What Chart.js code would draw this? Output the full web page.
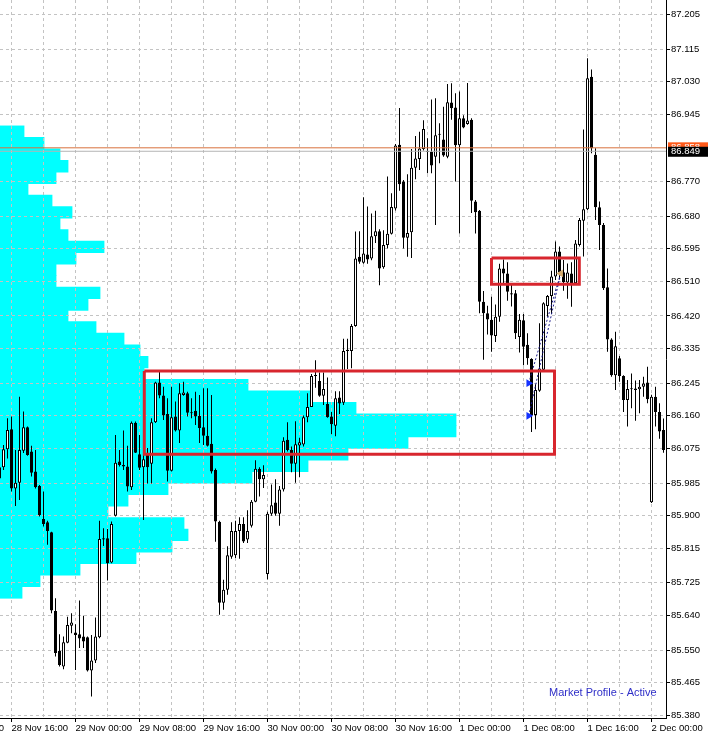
<!DOCTYPE html>
<html>
<head>
<meta charset="utf-8">
<script src="https://cdn.jsdelivr.net/npm/chart.js@4.4.1/dist/chart.umd.min.js"></script>
<style>
  html, body { margin: 0; padding: 0; background: #fff; }
  #wrap { width: 708px; height: 737px; }
</style>
</head>
<body>
<div id="wrap"><canvas id="chart" width="708" height="737"></canvas></div>
<script>
// M30 bars, index 0 = 28 Nov 16:00
const FIRST_BAR = -3;
const opens = [
  85.997, 86.026, 86.073, 86.125, 85.971, 85.986, 86.069, 86.130, 86.067, 86.015,
  85.977, 85.891, 85.883, 85.857, 85.652, 85.548, 85.507, 85.569, 85.613, 85.596,
  85.591, 85.585, 85.583, 85.497, 85.523, 85.583, 85.841, 85.841, 85.778, 85.900,
  86.041, 86.032, 86.028, 85.974, 86.142, 86.060, 86.026, 86.062, 86.035, 86.143,
  86.247, 86.213, 86.165, 86.017, 86.158, 86.122, 86.214, 86.219, 86.169, 86.173,
  86.160, 86.130, 86.108, 86.087, 86.019, 85.884, 85.673, 85.707, 85.793, 85.797,
  85.860, 85.878, 85.838, 85.874, 85.936, 86.022, 85.995, 85.748, 85.905, 85.934,
  85.905, 85.968, 86.098, 86.071, 86.035, 86.083, 86.085, 86.156, 86.183, 86.264,
  86.251, 86.212, 86.191, 86.158, 86.134, 86.208, 86.194, 86.329, 86.329, 86.394,
  86.574, 86.559, 86.580, 86.570, 86.628, 86.641, 86.547, 86.605, 86.634, 86.700,
  86.866, 86.770, 86.624, 86.638, 86.806, 86.829, 86.855, 86.850, 86.848, 86.835,
  86.894, 86.880, 86.835, 86.976, 86.963, 86.865, 86.935, 86.920, 86.931, 86.718,
  86.694, 86.457, 86.427, 86.410, 86.368, 86.418, 86.544, 86.531, 86.479, 86.479,
  86.365, 86.409, 86.345, 86.308, 86.162, 86.225, 86.280, 86.446, 86.472, 86.523,
  86.588, 86.534, 86.507, 86.531, 86.505, 86.605, 86.668, 86.698, 87.043, 86.840,
  86.703, 86.657, 86.495, 86.359, 86.266, 86.310, 86.264, 86.201, 86.230, 86.227,
  86.229, 86.236, 86.247, 85.935, 86.210, 86.170, 86.123
];
const highs = [
  86.076, 86.084, 86.154, 86.158, 86.071, 86.210, 86.171, 86.132, 86.082, 86.071,
  85.980, 85.963, 85.887, 85.858, 85.685, 85.591, 85.585, 85.637, 85.646, 85.617,
  85.679, 85.639, 85.585, 85.589, 85.635, 85.887, 85.867, 85.865, 85.885, 86.110,
  86.071, 86.122, 86.082, 86.145, 86.145, 86.110, 86.067, 86.076, 86.154, 86.249,
  86.275, 86.236, 86.206, 86.236, 86.197, 86.245, 86.249, 86.223, 86.206, 86.223,
  86.214, 86.232, 86.232, 86.214, 86.023, 85.887, 85.733, 85.820, 85.883, 85.887,
  85.896, 85.896, 85.914, 85.941, 86.044, 86.026, 86.031, 85.910, 85.981, 85.995,
  85.977, 86.104, 86.143, 86.080, 86.146, 86.103, 86.161, 86.219, 86.269, 86.305,
  86.273, 86.273, 86.260, 86.170, 86.224, 86.224, 86.361, 86.361, 86.399, 86.640,
  86.641, 86.729, 86.705, 86.687, 86.694, 86.646, 86.643, 86.783, 86.740, 86.868,
  86.962, 86.774, 86.789, 86.855, 86.889, 86.900, 86.930, 86.883, 86.984, 86.987,
  86.922, 86.965, 87.024, 87.026, 87.000, 87.005, 86.943, 87.027, 86.935, 86.722,
  86.696, 86.485, 86.447, 86.470, 86.450, 86.556, 86.567, 86.560, 86.505, 86.488,
  86.425, 86.425, 86.375, 86.310, 86.242, 86.401, 86.456, 86.475, 86.538, 86.614,
  86.601, 86.566, 86.557, 86.560, 86.618, 86.675, 86.906, 87.091, 87.062, 86.857,
  86.718, 86.662, 86.544, 86.362, 86.379, 86.316, 86.266, 86.253, 86.270, 86.252,
  86.253, 86.262, 86.288, 86.215, 86.236, 86.193, 86.153
];
const lows = [
  85.993, 86.019, 86.049, 85.963, 85.925, 85.941, 86.063, 86.056, 86.002, 85.971,
  85.898, 85.872, 85.824, 85.646, 85.533, 85.507, 85.500, 85.568, 85.594, 85.498,
  85.555, 85.555, 85.494, 85.429, 85.516, 85.581, 85.821, 85.731, 85.776, 85.898,
  86.028, 86.019, 85.963, 85.967, 86.063, 86.019, 85.889, 85.984, 85.984, 86.141,
  86.206, 86.149, 85.989, 86.015, 86.119, 86.089, 86.212, 86.158, 86.154, 86.136,
  86.089, 86.084, 86.080, 86.010, 85.832, 85.642, 85.655, 85.694, 85.788, 85.790,
  85.788, 85.829, 85.829, 85.869, 85.935, 85.950, 85.972, 85.734, 85.900, 85.900,
  85.874, 85.963, 86.067, 86.013, 85.986, 86.000, 86.080, 86.143, 86.183, 86.233,
  86.210, 86.188, 86.155, 86.112, 86.107, 86.165, 86.188, 86.282, 86.284, 86.392,
  86.556, 86.556, 86.556, 86.565, 86.610, 86.500, 86.543, 86.596, 86.632, 86.695,
  86.746, 86.596, 86.574, 86.571, 86.776, 86.800, 86.851, 86.792, 86.792, 86.657,
  86.818, 86.835, 86.831, 86.931, 86.770, 86.635, 86.909, 86.918, 86.688, 86.635,
  86.427, 86.306, 86.372, 86.327, 86.352, 86.405, 86.505, 86.460, 86.445, 86.360,
  86.325, 86.292, 86.293, 86.118, 86.125, 86.223, 86.275, 86.418, 86.425, 86.514,
  86.515, 86.486, 86.465, 86.444, 86.501, 86.601, 86.575, 86.696, 86.844, 86.670,
  86.592, 86.488, 86.327, 86.262, 86.227, 86.249, 86.170, 86.132, 86.180, 86.147,
  86.167, 86.210, 86.193, 85.933, 86.132, 86.100, 86.064
];
const closes = [
  86.026, 86.073, 86.123, 85.971, 85.986, 86.071, 86.130, 86.058, 86.012, 85.974,
  85.902, 85.878, 85.860, 85.653, 85.542, 85.511, 85.570, 85.615, 85.622, 85.589,
  85.580, 85.572, 85.497, 85.523, 85.585, 85.839, 85.838, 85.776, 85.878, 86.038,
  86.032, 86.028, 85.976, 86.142, 86.064, 86.025, 86.047, 86.026, 86.143, 86.247,
  86.213, 86.161, 86.017, 86.156, 86.122, 86.219, 86.221, 86.168, 86.167, 86.158,
  86.128, 86.108, 86.082, 86.015, 85.885, 85.673, 85.707, 85.797, 85.860, 85.860,
  85.878, 85.833, 85.860, 85.936, 86.022, 85.995, 86.006, 85.905, 85.927, 85.905,
  85.968, 86.095, 86.071, 86.035, 86.086, 86.091, 86.156, 86.183, 86.264, 86.266,
  86.212, 86.230, 86.156, 86.138, 86.206, 86.192, 86.329, 86.332, 86.394, 86.570,
  86.561, 86.583, 86.567, 86.628, 86.641, 86.544, 86.605, 86.634, 86.704, 86.864,
  86.763, 86.624, 86.636, 86.806, 86.830, 86.856, 86.907, 86.847, 86.812, 86.891,
  86.892, 86.838, 86.977, 86.961, 86.865, 86.935, 86.911, 86.929, 86.720, 86.690,
  86.457, 86.427, 86.411, 86.369, 86.418, 86.544, 86.531, 86.483, 86.476, 86.375,
  86.410, 86.340, 86.310, 86.161, 86.227, 86.283, 86.453, 86.472, 86.523, 86.588,
  86.533, 86.508, 86.533, 86.504, 86.609, 86.670, 86.698, 87.039, 86.857, 86.703,
  86.657, 86.492, 86.359, 86.266, 86.341, 86.264, 86.201, 86.230, 86.229, 86.231,
  86.236, 86.244, 86.203, 86.210, 86.170, 86.119, 86.071
];

// time axis: bar index of each grid line and its label
const xTickBars = [-16, 0, 8, 16, 24, 32, 40, 48, 56, 64, 72, 80, 88, 96, 104, 112, 120, 128, 136, 144, 152, 160];
const xTickLabels = ['28 Nov 08:00', '28 Nov 16:00', '', '29 Nov 00:00', '', '29 Nov 08:00', '', '29 Nov 16:00', '',
  '30 Nov 00:00', '', '30 Nov 08:00', '', '30 Nov 16:00', '', '1 Dec 00:00', '', '1 Dec 08:00', '',
  '1 Dec 16:00', '', '2 Dec 00:00'];
const priceTicks = [87.205, 87.115, 87.030, 86.945, 86.770, 86.680, 86.595, 86.510, 86.420, 86.335,
  86.245, 86.160, 86.075, 85.985, 85.900, 85.815, 85.725, 85.640, 85.550, 85.465, 85.380];

// market profile (row price, row length in bars)
const profilePrices = [85.70, 85.73, 85.76, 85.79, 85.82, 85.85, 85.88, 85.91, 85.94, 85.97,
  86.00, 86.03, 86.06, 86.09, 86.12, 86.15, 86.18, 86.21, 86.24, 86.27,
  86.30, 86.33, 86.36, 86.39, 86.42, 86.45, 86.48, 86.51, 86.54, 86.57,
  86.60, 86.63, 86.66, 86.69, 86.72, 86.75, 86.78, 86.81, 86.84, 86.87, 86.90];
const profileSize = [5.5, 10, 20, 34, 43, 47, 46, 27, 32, 42,
  63, 77, 87, 102, 114, 114, 89, 78, 62, 36,
  37, 35, 31, 24, 17, 22, 25, 14, 14, 19,
  26, 17, 15, 18, 13, 7, 14, 17, 15, 11, 6];

// objects on the chart
const askPrice = 86.858;
const bidPrice = 86.849;
const zoneA = { from: 33.2, to: 135.75, top: 86.277, bottom: 86.060 };
const zoneB = { from: 120.0, to: 141.95, top: 86.571, bottom: 86.503 };
const tradeOpenBar = 129.3;
const tradeOpenPrices = [86.245, 86.160];
const tradeCloseBar = 137.3;
const tradeClosePrice = 86.531;

const X_MIN = -2.875, X_MAX = 163.625;
const Y_MIN = 85.373, Y_MAX = 87.243;

const bars = opens.map((_, k) => FIRST_BAR + k);
const bodyColors = bars.map((_, k) => closes[k] >= opens[k] ? '#ffffff' : '#000000');

function box(z) {
  return [
    { x: z.from, y: z.top }, { x: z.to, y: z.top }, { x: z.to, y: z.bottom },
    { x: z.from, y: z.bottom }, { x: z.from, y: z.top }
  ];
}

const FONT = { family: 'Liberation Sans, Arial, sans-serif', size: 9.5 };

function noPadding(s) {
  s.paddingLeft = 0; s.paddingRight = 0; s.paddingTop = 0; s.paddingBottom = 0;
}

// grid must sit above the profile but under the candles
const gridOverProfile = {
  id: 'gridOverProfile',
  afterDatasetDraw(chart, args) {
    if (args.index !== 0) return;
    chart.scales.x.drawGrid(chart.chartArea);
    chart.scales.y.drawGrid(chart.chartArea);
  }
};

const priceTags = {
  id: 'priceTags',
  afterDraw(chart) {
    const { ctx, chartArea, scales } = chart;
    const x0 = chartArea.right + 2;
    ctx.save();
    ctx.font = '9.5px "Liberation Sans", Arial, sans-serif';
    ctx.textBaseline = 'middle';
    ctx.textAlign = 'left';
    const ya = scales.y.getPixelForValue(askPrice);
    ctx.fillStyle = '#ff5a1a';
    ctx.fillRect(x0, ya - 5.5, chart.width - x0, 10);
    ctx.fillStyle = '#ffffff';
    ctx.fillText(askPrice.toFixed(3), chartArea.right + 5, ya);
    const yb = scales.y.getPixelForValue(bidPrice);
    ctx.fillStyle = '#000000';
    ctx.fillRect(x0, yb - 4.5, chart.width - x0, 10);
    ctx.fillStyle = '#ffffff';
    ctx.fillText(bidPrice.toFixed(3), chartArea.right + 5, yb + 0.5);
    // indicator label
    ctx.font = '11px "Liberation Sans", Arial, sans-serif';
    ctx.fillStyle = '#2f2fc8';
    ctx.fillText('Market Profile - Active', chartArea.right - 117, chartArea.bottom - 25);
    ctx.restore();
  }
};

const hiddenAxis = { type: 'linear', display: false, offset: false, grid: { offset: false }, ticks: { display: false } };

new Chart(document.getElementById('chart'), {
  data: {
    datasets: [
      {
        type: 'bar',
        indexAxis: 'y',
        xAxisID: 'xp',
        yAxisID: 'yp',
        data: profilePrices.map((p, k) => ({ x: [X_MIN, X_MIN + profileSize[k]], y: p })),
        backgroundColor: '#00ffff',
        borderWidth: 0,
        grouped: false,
        barPercentage: 1,
        categoryPercentage: 1,
        inflateAmount: 0.4,
        order: 10
      },
      {
        type: 'bar',
        data: bars.map((x, k) => ({ x, y: [lows[k], highs[k]] })),
        backgroundColor: '#000000',
        borderWidth: 0,
        grouped: false,
        barPercentage: 1,
        categoryPercentage: 1,
        maxBarThickness: 1,
        inflateAmount: 0,
        order: 6
      },
      {
        type: 'bar',
        data: bars.map((x, k) => ({ x, y: [opens[k], closes[k]] })),
        backgroundColor: bodyColors,
        borderColor: '#000000',
        borderWidth: 1,
        borderSkipped: false,
        minBarLength: 1,
        grouped: false,
        barPercentage: 1,
        categoryPercentage: 1,
        maxBarThickness: 3,
        inflateAmount: 0,
        order: 5
      },
      {
        type: 'line',
        data: [{ x: X_MIN, y: bidPrice }, { x: X_MAX, y: bidPrice }],
        borderColor: '#b4b4b4', borderWidth: 1, pointRadius: 0, order: 4
      },
      {
        type: 'line',
        data: [{ x: X_MIN, y: askPrice }, { x: X_MAX, y: askPrice }],
        borderColor: '#d8703c', borderWidth: 1, pointRadius: 0, order: 4
      },
      {
        type: 'line',
        data: [{ x: tradeOpenBar, y: tradeOpenPrices[0] }, { x: tradeCloseBar, y: tradeClosePrice }],
        borderColor: '#1c1c8c', borderWidth: 1, borderDash: [2, 2], pointRadius: 0, order: 3
      },
      {
        type: 'line',
        data: [{ x: tradeOpenBar, y: tradeOpenPrices[1] }, { x: tradeCloseBar, y: tradeClosePrice }],
        borderColor: '#1c1c8c', borderWidth: 1, borderDash: [2, 2], pointRadius: 0, order: 3
      },
      {
        type: 'line',
        showLine: false,
        data: tradeOpenPrices.map(p => ({ x: tradeOpenBar, y: p })),
        pointStyle: 'triangle', rotation: 90, pointRadius: 4.5, pointBorderWidth: 0,
        backgroundColor: '#1432ff', borderColor: '#1432ff', order: 2
      },
      {
        type: 'line',
        showLine: false,
        data: [{ x: tradeCloseBar, y: tradeClosePrice }],
        pointStyle: 'triangle', rotation: -90, pointRadius: 4.5, pointBorderWidth: 0,
        backgroundColor: '#d2aa6e', borderColor: '#d2aa6e', order: 2
      },
      {
        type: 'line',
        data: box(zoneA),
        borderColor: '#d8262e', borderWidth: 3, pointRadius: 0, tension: 0, order: 1
      },
      {
        type: 'line',
        data: box(zoneB),
        borderColor: '#d8262e', borderWidth: 3, pointRadius: 0, tension: 0, order: 1
      }
    ]
  },
  options: {
    responsive: false,
    animation: false,
    devicePixelRatio: 1,
    events: [],
    layout: { autoPadding: false, padding: 0 },
    plugins: { legend: { display: false }, tooltip: { enabled: false } },
    scales: {
      x: {
        type: 'linear',
        position: 'bottom',
        offset: false,
        min: X_MIN,
        max: X_MAX,
        afterBuildTicks: s => { s.ticks = xTickBars.map(v => ({ value: v })); },
        afterFit: s => { s.height = 19; noPadding(s); },
        ticks: {
          autoSkip: false, maxRotation: 0, minRotation: 0, align: 'start', padding: 1,
          color: '#000000', font: FONT,
          callback: (v, i) => xTickLabels[i]
        },
        grid: {
          offset: false,
          color: '#c3c3c3', lineWidth: 1, tickLength: 4, tickWidth: 1, tickBorderDash: [],
          tickColor: c => (xTickLabels[c.index] ? '#000000' : 'rgba(0,0,0,0)')
        },
        border: { color: '#000000', width: 1, dash: [3, 3] }
      },
      y: {
        type: 'linear',
        position: 'right',
        offset: false,
        beginAtZero: false,
        min: Y_MIN,
        max: Y_MAX,
        afterBuildTicks: s => { s.ticks = priceTicks.map(v => ({ value: v })); },
        afterFit: s => { s.width = 42; noPadding(s); },
        ticks: {
          padding: 1, color: '#000000', font: FONT,
          callback: v => v.toFixed(3)
        },
        grid: { offset: false, color: '#c3c3c3', lineWidth: 1, tickLength: 4, tickWidth: 1, tickBorderDash: [], tickColor: '#000000' },
        border: { color: '#000000', width: 1, dash: [3, 3] }
      },
      xp: Object.assign({}, hiddenAxis, { position: 'bottom', min: X_MIN, max: X_MAX,
        afterFit: s => { s.height = 0; noPadding(s); } }),
      yp: Object.assign({}, hiddenAxis, { position: 'right', min: Y_MIN, max: Y_MAX,
        afterFit: s => { s.width = 0; noPadding(s); } })
    }
  },
  plugins: [gridOverProfile, priceTags]
});
</script>
</body>
</html>
